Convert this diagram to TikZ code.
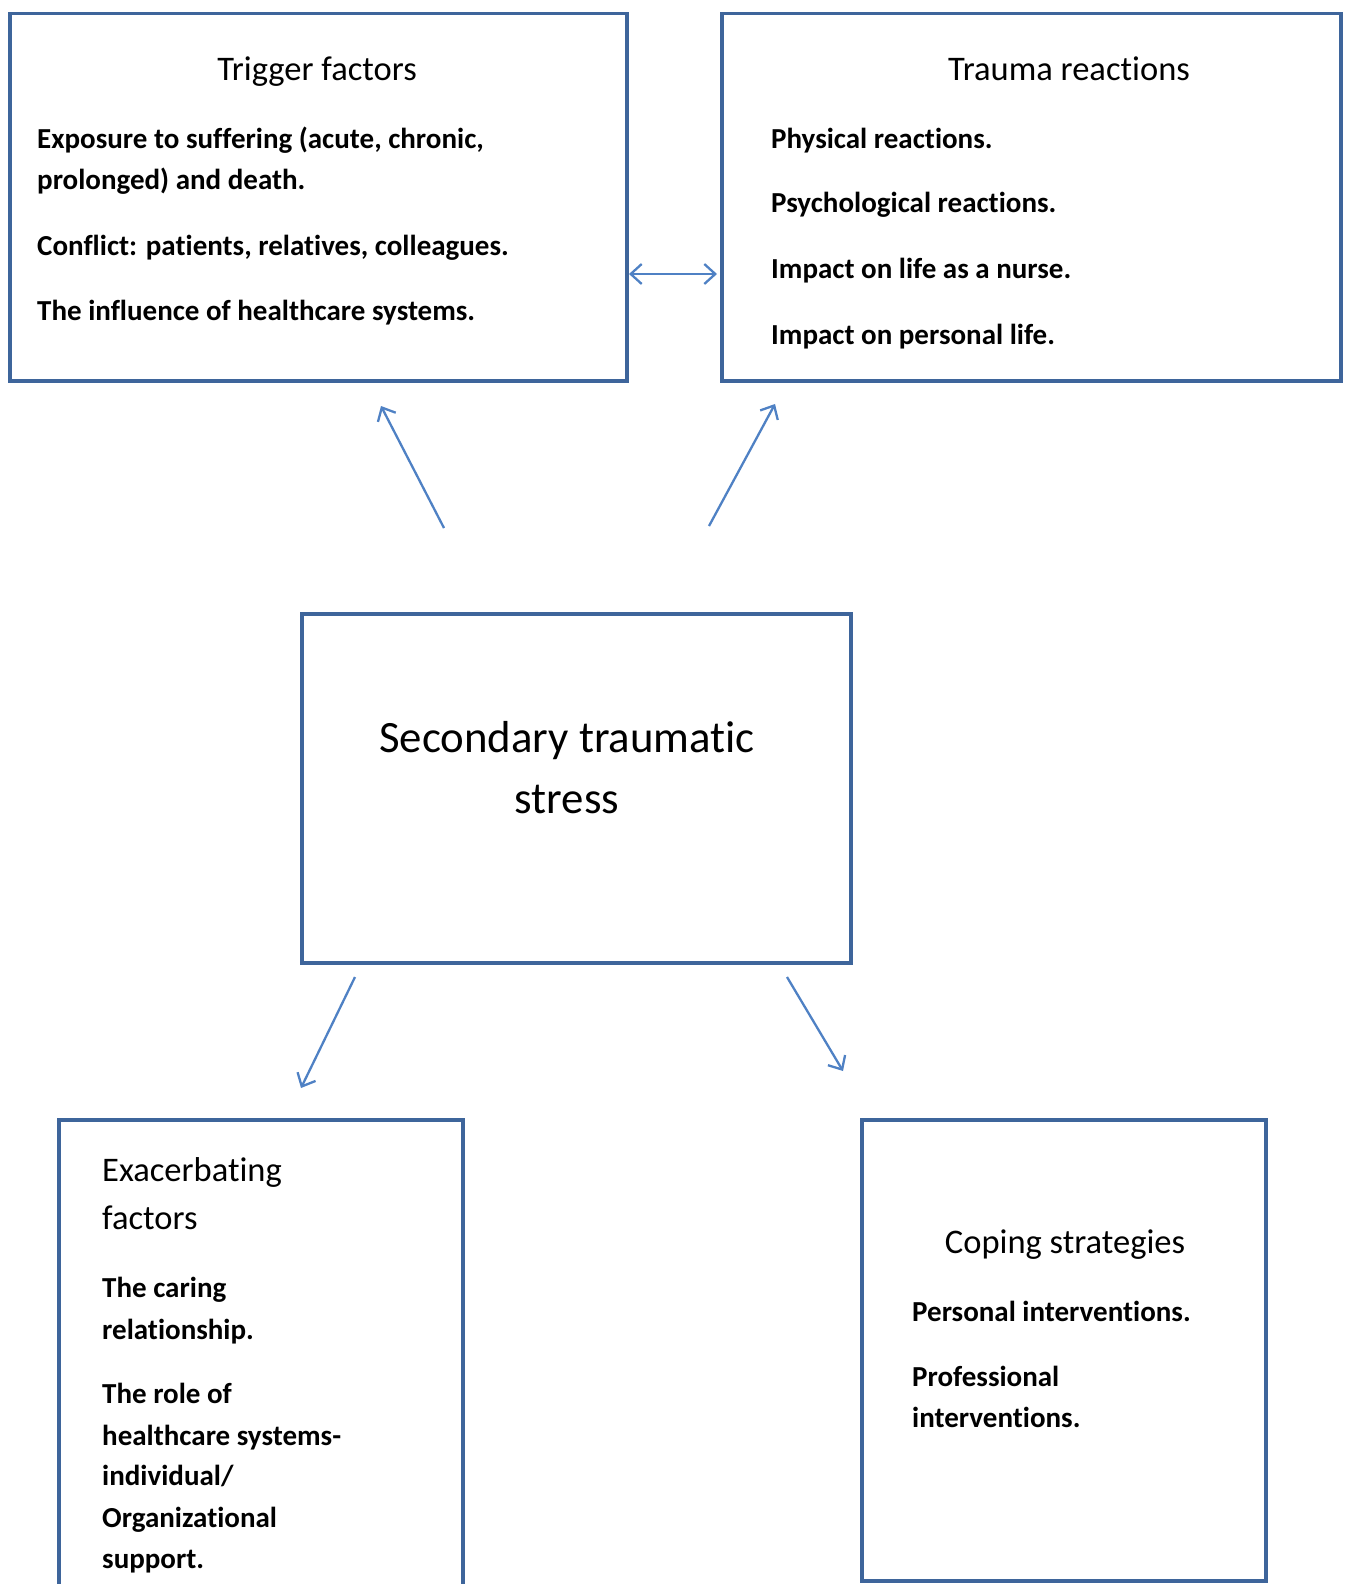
\documentclass[tikz,border=0pt]{standalone}
\usepackage{fontspec}
\setmainfont[Ligatures={NoCommon}]{Carlito}
\usetikzlibrary{arrows.meta}
\pgfdeclarelayer{edgelayer}
\pgfdeclarelayer{nodelayer}
\pgfsetlayers{edgelayer,nodelayer,main}
\definecolor{boxblue}{HTML}{3E659B}
\definecolor{arrowblue}{HTML}{4F81C4}
\tikzstyle{box}=[draw=boxblue,line width=3.5pt,anchor=north west,inner sep=0]
\tikzstyle{link}=[-{Straight Barb[length=11pt,width=20pt]},draw=arrowblue,line width=2.3pt]
\tikzstyle{duallink}=[link,{Straight Barb[length=11pt,width=20pt]}-{Straight Barb[length=11pt,width=20pt]}]
\tikzstyle{head}=[anchor=base,inner sep=0,font=\fontsize{34.5}{41}\selectfont]
\tikzstyle{headl}=[head,anchor=base west]
\tikzstyle{item}=[anchor=base west,inner sep=0,font=\bfseries\fontsize{29}{41}\selectfont]
\tikzstyle{big}=[anchor=base,inner sep=0,font=\fontsize{44.8}{61}\selectfont]

\begin{document}
\begin{tikzpicture}[x=1pt,y=-1pt]
	\path[use as bounding box] (0,0) rectangle (1346,1584);
	\begin{pgfonlayer}{nodelayer}
		% boxes
		\node [style=box, minimum width=617pt, minimum height=367pt] (trigger) at (8,12) {};
		\node [style=box, minimum width=619pt, minimum height=367pt] (trauma) at (720,12) {};
		\node [style=box, minimum width=549pt, minimum height=349pt] (sts) at (300,612) {};
		\node [style=box, minimum width=404pt, minimum height=520pt] (exacerb) at (57,1118) {};
		\node [style=box, minimum width=404pt, minimum height=461pt] (coping) at (860,1118) {};
		% trigger factors
		\node [style=head] (trigger-t) at (317,81) {Trigger factors};
		\node [style=item] (trigger-1) at (37,148) {Exposure to suffering (acute, chronic,};
		\node [style=item] (trigger-2) at (37,189) {prolonged) and death.};
		\node [style=item] (trigger-3) at (37,255) {Conflict: patients, relatives, colleagues.};
		\node [style=item] (trigger-4) at (37,320) {The influence of healthcare systems.};
		% trauma reactions
		\node [style=head] (trauma-t) at (1069,81) {Trauma reactions};
		\node [style=item] (trauma-1) at (771,148) {Physical reactions.};
		\node [style=item] (trauma-2) at (771,212) {Psychological reactions.};
		\node [style=item] (trauma-3) at (771,278) {Impact on life as a nurse.};
		\node [style=item] (trauma-4) at (771,344) {Impact on personal life.};
		% centre
		\node [style=big] (sts-1) at (567,752) {Secondary traumatic};
		\node [style=big] (sts-2) at (567,813) {stress};
		% exacerbating factors
		\node [style=headl] (exacerb-t1) at (102,1181) {Exacerbating};
		\node [style=headl] (exacerb-t2) at (102,1229) {factors};
		\node [style=item] (exacerb-1) at (102,1297) {The caring};
		\node [style=item] (exacerb-2) at (102,1339) {relationship.};
		\node [style=item] (exacerb-3) at (102,1403) {The role of};
		\node [style=item] (exacerb-4) at (102,1445) {healthcare systems-};
		\node [style=item] (exacerb-5) at (102,1485) {individual/};
		\node [style=item] (exacerb-6) at (102,1527) {Organizational};
		\node [style=item] (exacerb-7) at (102,1568) {support.};
		% coping strategies
		\node [style=head] (coping-t) at (1065,1253) {Coping strategies};
		\node [style=item] (coping-1) at (912,1321) {Personal interventions.};
		\node [style=item] (coping-2) at (912,1386) {Professional};
		\node [style=item] (coping-3) at (912,1427) {interventions.};
	\end{pgfonlayer}
	\begin{pgfonlayer}{edgelayer}
		\coordinate (tf-r) at (629,274);
		\coordinate (tr-l) at (717,274);
		\coordinate (up-l0) at (444,528);
		\coordinate (up-l1) at (381,406);
		\coordinate (up-r0) at (709,526);
		\coordinate (up-r1) at (775,404);
		\coordinate (dn-l0) at (355,977);
		\coordinate (dn-l1) at (301,1088);
		\coordinate (dn-r0) at (787,977);
		\coordinate (dn-r1) at (843,1071);
		\draw [style=duallink] (tf-r) to (tr-l);
		\draw [style=link] (up-l0) to (up-l1);
		\draw [style=link] (up-r0) to (up-r1);
		\draw [style=link] (dn-l0) to (dn-l1);
		\draw [style=link] (dn-r0) to (dn-r1);
	\end{pgfonlayer}
\end{tikzpicture}
\end{document}
